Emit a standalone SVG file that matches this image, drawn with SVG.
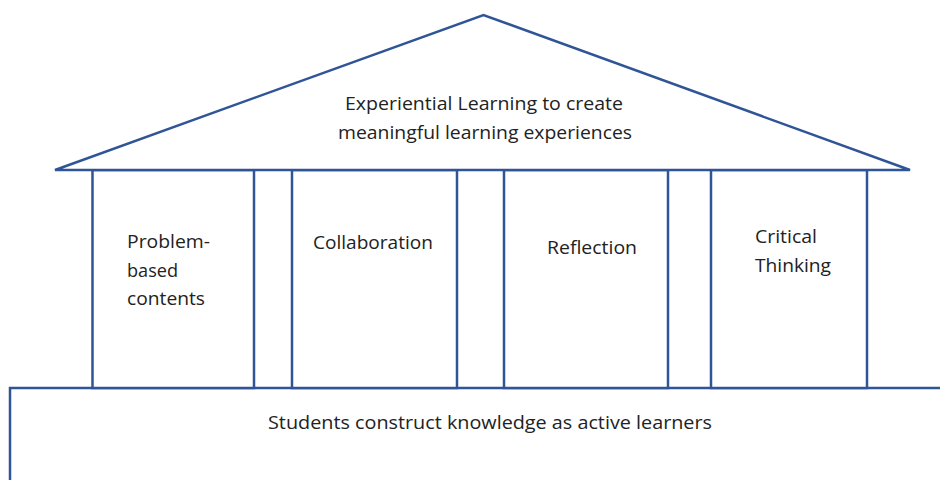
<svg xmlns="http://www.w3.org/2000/svg" width="940" height="480" viewBox="0 0 940 480">
  <style>
    .shape { fill: #ffffff; stroke: #2F5597; stroke-width: 2.5; stroke-linejoin: miter; }
    .label { font-family: "Open Sans", "Noto Sans", "Liberation Sans", sans-serif; font-size: 18px; fill: #222222; }
  </style>
  <rect x="0" y="0" width="940" height="480" fill="#ffffff"/>

  <!-- foundation slab -->
  <g id="foundation">
    <path class="shape" d="M10,484 V388 H944 V484"/>
    <text class="label" x="268" y="429" textLength="444" lengthAdjust="spacingAndGlyphs">Students construct knowledge as active learners</text>
  </g>

  <!-- pillars -->
  <g id="pillar-problem-based">
    <rect class="shape" x="92.5" y="170" width="161.5" height="218"/>
    <text class="label" x="127" y="248" textLength="83" lengthAdjust="spacingAndGlyphs">Problem-</text>
    <text class="label" x="127" y="277" textLength="51" lengthAdjust="spacingAndGlyphs">based</text>
    <text class="label" x="127" y="305" textLength="78" lengthAdjust="spacingAndGlyphs">contents</text>
  </g>
  <g id="pillar-collaboration">
    <rect class="shape" x="292" y="170" width="165" height="218"/>
    <text class="label" x="313" y="249" textLength="120" lengthAdjust="spacingAndGlyphs">Collaboration</text>
  </g>
  <g id="pillar-reflection">
    <rect class="shape" x="504" y="170" width="164" height="218"/>
    <text class="label" x="547" y="254" textLength="90" lengthAdjust="spacingAndGlyphs">Reflection</text>
  </g>
  <g id="pillar-critical-thinking">
    <rect class="shape" x="711" y="170" width="156" height="218"/>
    <text class="label" x="755" y="243" textLength="62" lengthAdjust="spacingAndGlyphs">Critical</text>
    <text class="label" x="755" y="272" textLength="76" lengthAdjust="spacingAndGlyphs">Thinking</text>
  </g>

  <!-- roof -->
  <g id="roof">
    <polygon class="shape" points="55,170 483.5,15 910,170"/>
    <text class="label" x="345" y="110" textLength="278" lengthAdjust="spacingAndGlyphs">Experiential Learning to create</text>
    <text class="label" x="338" y="139" textLength="294" lengthAdjust="spacingAndGlyphs">meaningful learning experiences</text>
  </g>

  <g id="connectors"/>
</svg>
